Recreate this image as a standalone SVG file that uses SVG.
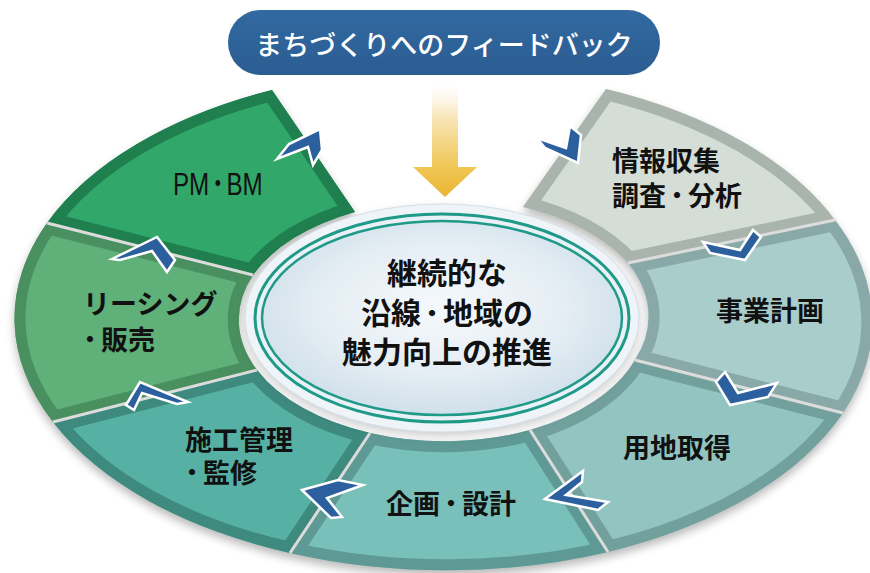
<svg xmlns="http://www.w3.org/2000/svg" xmlns:xlink="http://www.w3.org/1999/xlink" width="870" height="573" viewBox="0 0 870 573">
<style>
.bev{fill:none;stroke-width:22;stroke-linejoin:miter}
.lbl{font-family:"Noto Sans CJK JP","Noto Sans",sans-serif;font-weight:700;font-size:27px;fill:#111}
.ctr{font-family:"Noto Sans CJK JP","Noto Sans",sans-serif;font-weight:700;font-size:30px;fill:#111;text-anchor:middle}
.dot{font-family:"Noto Sans CJK JP",sans-serif;font-weight:900;font-size:22px}
.chev{fill:#2c5f9e;stroke:#fff;stroke-width:2.5;stroke-linejoin:miter}
.gap{stroke:#dcdcdc;stroke-width:3;fill:none}
</style>
<defs>
<path id="p-pm" d="M47,223 A429,250 0 0 1 272,90 L355,212 A205,122 0 0 0 253,275 Z"/>
<path id="p-info" d="M606,89 A429,250 0 0 1 835,220 L628,263 A205,122 0 0 0 523,207 Z"/>
<path id="p-biz" d="M835,220 A429,250 0 0 1 843,413 L635,360 A205,122 0 0 0 628,263 Z"/>
<path id="p-land" d="M843,413 A429,250 0 0 1 608,552 L530,430 A205,122 0 0 0 635,360 Z"/>
<path id="p-plan" d="M608,552 A429,250 0 0 1 290,553 L370,433 A205,122 0 0 0 530,430 Z"/>
<path id="p-const" d="M290,553 A429,250 0 0 1 53,422 L257,370 A205,122 0 0 0 370,433 Z"/>
<path id="p-lease" d="M53,422 A429,250 0 0 1 47,223 L253,275 A205,122 0 0 0 257,370 Z"/>
<clipPath id="c-pm"><use href="#p-pm"/></clipPath>
<clipPath id="c-info"><use href="#p-info"/></clipPath>
<clipPath id="c-biz"><use href="#p-biz"/></clipPath>
<clipPath id="c-land"><use href="#p-land"/></clipPath>
<clipPath id="c-plan"><use href="#p-plan"/></clipPath>
<clipPath id="c-const"><use href="#p-const"/></clipPath>
<clipPath id="c-lease"><use href="#p-lease"/></clipPath>
<filter id="sh" x="-10%" y="-10%" width="120%" height="130%">
<feGaussianBlur stdDeviation="5"/>
</filter>
<linearGradient id="yarrow" x1="0" y1="83" x2="0" y2="197" gradientUnits="userSpaceOnUse">
<stop offset="0" stop-color="#fdf6e6" stop-opacity="0"/>
<stop offset="0.3" stop-color="#f8e6b8"/>
<stop offset="0.75" stop-color="#f0c552"/>
<stop offset="1" stop-color="#e8b534"/>
</linearGradient>
<radialGradient id="cg" cx="50%" cy="45%" r="55%">
<stop offset="0" stop-color="#f6f9fc"/>
<stop offset="0.6" stop-color="#e5eef4"/>
<stop offset="1" stop-color="#d0e0ea"/>
</radialGradient>
<linearGradient id="bannerG" x1="0" y1="0" x2="0" y2="1">
<stop offset="0" stop-color="#3169a0"/>
<stop offset="1" stop-color="#2b5d92"/>
</linearGradient>
</defs>
<rect width="870" height="573" fill="#fff"/>

<g id="ring-shadow" filter="url(#sh)" fill="#000" opacity="0.28" transform="translate(0,5)">
<use href="#p-pm"/><use href="#p-info"/><use href="#p-biz"/><use href="#p-land"/><use href="#p-plan"/><use href="#p-const"/><use href="#p-lease"/>
</g>

<g id="node-pm">
<use href="#p-pm" fill="#31a86a"/>
<use href="#p-pm" class="bev" clip-path="url(#c-pm)" stroke="#1f7f4e"/>
<text transform="translate(173,195) scale(0.78,1)" font-family="Liberation Sans, Noto Sans CJK JP, sans-serif" font-size="31" fill="#111">PM<tspan class="dot" dy="-4">・</tspan><tspan dy="4">BM</tspan></text>
</g>
<g id="node-info">
<use href="#p-info" fill="#d4ddd6"/>
<use href="#p-info" class="bev" clip-path="url(#c-info)" stroke="#a9b4ac"/>
<text class="lbl" x="612" y="171">情報収集</text>
<text class="lbl" x="612" y="206">調査<tspan class="dot" dy="-3">・</tspan><tspan dy="3">分析</tspan></text>
</g>
<g id="node-biz">
<use href="#p-biz" fill="#a8cdcb"/>
<use href="#p-biz" class="bev" clip-path="url(#c-biz)" stroke="#88a9a7"/>
<text class="lbl" x="770" y="321" text-anchor="middle">事業計画</text>
</g>
<g id="node-land">
<use href="#p-land" fill="#92c4c1"/>
<use href="#p-land" class="bev" clip-path="url(#c-land)" stroke="#72a09d"/>
<text class="lbl" x="677" y="458" text-anchor="middle">用地取得</text>
</g>
<g id="node-plan">
<use href="#p-plan" fill="#79bfba"/>
<use href="#p-plan" class="bev" clip-path="url(#c-plan)" stroke="#5f9995"/>
<text class="lbl" x="451" y="514" text-anchor="middle">企画<tspan class="dot" dy="-3">・</tspan><tspan dy="3">設計</tspan></text>
</g>
<g id="node-const">
<use href="#p-const" fill="#56b0a4"/>
<use href="#p-const" class="bev" clip-path="url(#c-const)" stroke="#3e8a7e"/>
<text class="lbl" x="185" y="450">施工管理</text>
<text class="lbl" x="181" y="483"><tspan class="dot" dy="-3">・</tspan><tspan dy="3">監修</tspan></text>
</g>
<g id="node-lease">
<use href="#p-lease" fill="#60b07a"/>
<use href="#p-lease" class="bev" clip-path="url(#c-lease)" stroke="#4a8f60"/>
<text class="lbl" x="83" y="314">リーシング</text>
<text class="lbl" x="79" y="350"><tspan class="dot" dy="-3">・</tspan><tspan dy="3">販売</tspan></text>
</g>

<g id="gaps" class="gap">
<line x1="47" y1="223" x2="253" y2="275"/>
<line x1="53" y1="422" x2="257" y2="370"/>
<line x1="290" y1="553" x2="370" y2="433"/>
<line x1="608" y1="552" x2="530" y2="430"/>
<line x1="843" y1="413" x2="635" y2="360"/>
<line x1="835" y1="220" x2="628" y2="263"/>
</g>

<g id="node-center">
<ellipse cx="442" cy="322" rx="197" ry="114" fill="#000" opacity="0.2" filter="url(#sh)"/>
<ellipse cx="442" cy="318" rx="197" ry="114" fill="#eef4f8" stroke="#d3e1ea" stroke-width="1"/>
<ellipse cx="442" cy="318" rx="187" ry="104" fill="#e9f1f6" stroke="#1f9a88" stroke-width="3"/>
<ellipse cx="442" cy="318" rx="180" ry="97" fill="url(#cg)" stroke="#1f9a88" stroke-width="2.5"/>
<text class="ctr" x="447" y="284">継続的な</text>
<text class="ctr" x="447" y="324">沿線<tspan class="dot" font-size="24" dy="-3">・</tspan><tspan dy="3">地域の</tspan></text>
<text class="ctr" x="447" y="363">魅力向上の推進</text>
</g>

<g id="node-banner">
<rect x="228" y="10" width="432" height="65" rx="32.5" fill="url(#bannerG)"/>
<text x="444" y="55" text-anchor="middle" font-family="Noto Sans CJK JP, sans-serif" font-weight="500" font-size="27" fill="#fff">まちづくりへのフィードバック</text>
</g>

<g id="connectors">
<polygon points="432,83 458,83 458,167 477,167 445,197 413,167 432,167" fill="url(#yarrow)"/>
<polygon class="chev" points="277,159 289,144 320,129 322,150 313,165 308,147"/>
<polygon class="chev" points="537,138 566,148 570,126 581,135 578,163 545,148"/>
<polygon class="chev" points="703,242 740,250 753,230 761,237 745,260 710,253"/>
<polygon class="chev" points="725,372 738,393 777,383 768,397 730,405 716,382"/>
<polygon class="chev" points="545,499 583,471 582,482 566,495 608,502 598,510"/>
<polygon class="chev" points="302,490 338,480 363,485 327,498 342,517 331,518"/>
<polygon class="chev" points="126,405 140,382 188,402 177,404 142,393 134,410"/>
<polygon class="chev" points="112,259 157,237 175,260 167,272 152,251 120,260"/>
</g>
</svg>
